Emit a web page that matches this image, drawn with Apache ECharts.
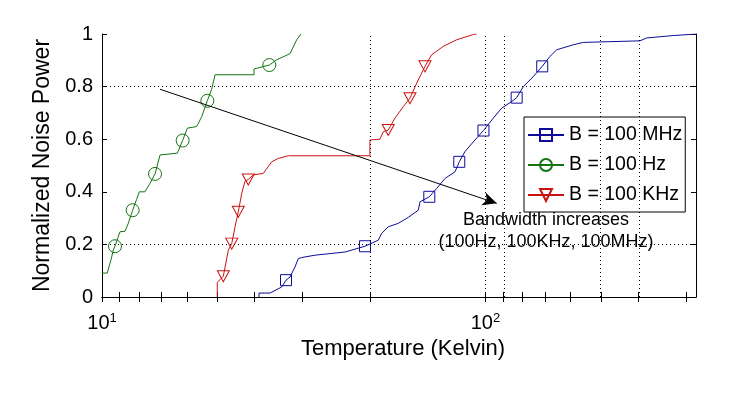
<!DOCTYPE html>
<html>
<head>
    <meta charset="utf-8">
    <title>Normalized Noise Power</title>
    <script src="https://cdn.jsdelivr.net/npm/echarts@6/dist/echarts.min.js"></script>
</head>
<body style="margin:0;background:#fff;">
    <div id="main" style="width:752px;height:394px;"></div>
    <script>
        // temperatures in kelvin, noise power as fraction of total
        var blueTemp = [25.67, 25.67, 27.42, 28.26, 29.42, 30.19, 30.92, 31.86, 32.5, 33.17,
            35.93, 43.01, 48.51, 52.54, 53.62, 55.78, 59.24, 62.92, 66.81, 67.49,
            71.37, 74.61, 78.45, 83.28, 85.45, 88.42, 93.89, 98.8, 104.8, 110.2,
            117, 120.6, 125.5, 133.3, 140.6, 147.3, 153.4, 169.4, 179.9, 252.9,
            263.3, 308.9, 308.9, 354];
        var blueFrac = [0, 0.015, 0.015, 0.025, 0.038, 0.064, 0.076, 0.114, 0.146, 0.15,
            0.159, 0.171, 0.193, 0.216, 0.242, 0.267, 0.28, 0.303, 0.33, 0.362,
            0.381, 0.413, 0.451, 0.476, 0.514, 0.553, 0.597, 0.633, 0.68, 0.718,
            0.743, 0.758, 0.8, 0.838, 0.877, 0.915, 0.94, 0.959, 0.968, 0.974,
            0.985, 0.994, 0.998, 1.0];
        var blueMarks = [30.19, 48.51, 71.37, 85.45, 98.8, 120.6, 140.6];

        var greenTemp = [10, 10.32, 10.55, 10.7, 10.81, 11.0, 11.14, 11.48, 11.71, 11.96,
            12.02, 12.3, 12.51, 12.94, 13.34, 13.75, 14.17, 15.72, 16.23, 16.69,
            17.66, 18.2, 18.82, 19.32, 19.72, 24.91, 24.91, 27.31, 28.54, 30.92,
            32.19, 33.03];
        var greenFrac = [0.091, 0.091, 0.14, 0.178, 0.193, 0.225, 0.248, 0.25, 0.28, 0.32,
            0.33, 0.37, 0.40, 0.40, 0.432, 0.468, 0.54, 0.547, 0.595, 0.642,
            0.648, 0.686, 0.746, 0.79, 0.845, 0.845, 0.867, 0.882, 0.902, 0.925,
            0.978, 1.0];
        var greenMarks = [10.81, 12.02, 13.75, 16.23, 18.82, 27.31];

        var redTemp = [19.98, 19.98, 20.72, 21.35, 21.79, 22.23, 22.67, 23.14, 23.6, 24.07,
            24.8, 26.34, 27.71, 28.83, 30.61, 49.97, 49.97, 53.08, 54.14, 55.78,
            58.07, 61.04, 63.56, 66.17, 69.54, 72.39, 77.62, 84.13, 92.95, 94.84];
        var redFrac = [0, 0.055, 0.079, 0.178, 0.203, 0.267, 0.324, 0.394, 0.44, 0.447,
            0.464, 0.47, 0.514, 0.527, 0.537, 0.537, 0.597, 0.6, 0.629, 0.635,
            0.68, 0.724, 0.756, 0.813, 0.877, 0.921, 0.953, 0.978, 0.998, 1.0];
        var redMarks = [20.72, 21.79, 22.67, 24.07, 55.78, 63.56, 69.54];

        var seriesNames = ['B = 100 MHz', 'B = 100 Hz', 'B = 100 KHz'];

        // axis: temperature shown on log scale
        var xMinTemp = 10;
        var xMaxTemp = 354;
        var tickTemps = [10, 11.11, 12.5, 14.29, 16.67, 20, 25, 33.33, 50,
            100, 111.1, 125, 142.9, 166.7, 200, 250, 333.3];
        var labelTemps = [10, 100];
        var gridTemps = [50, 100, 111.1, 200, 250];
        var gridFracs = [0.2, 0.8];

        // arrow from / to (temperature, fraction)
        var arrowFrom = [14.16, 0.79];
        var arrowTo = [107, 0.356];
        var noteLines = ['Bandwidth increases', '(100Hz, 100KHz, 100MHz)'];

        var FONT = '"Liberation Sans", Arial, sans-serif';
        var lg = Math.log10;

        function curveData(temps, fracs, marks) {
            return temps.map(function (t, i) {
                var item = { value: [lg(t), fracs[i]] };
                if (marks.indexOf(t) < 0) {
                    item.symbol = 'none';
                }
                return item;
            });
        }

        function curveSeries(name, color, symbol, size, rotate, data) {
            return {
                name: name,
                type: 'line',
                data: data,
                symbol: symbol,
                symbolSize: size,
                symbolRotate: rotate,
                showAllSymbol: true,
                lineStyle: { color: color, width: 1 },
                itemStyle: { color: 'rgba(0,0,0,0)', borderColor: color, borderWidth: 1 },
                emphasis: { disabled: true },
                z: 3
            };
        }

        var xTicks = tickTemps.map(lg);
        var xLabels = labelTemps.map(lg);

        var chart = echarts.init(document.getElementById('main'));
        var option = {
            animation: false,
            backgroundColor: '#fff',
            textStyle: { fontFamily: FONT },
            grid: { left: 102, right: 56, top: 34, bottom: 97 },
            legend: {
                data: seriesNames,
                orient: 'vertical',
                left: 524,
                top: 117,
                backgroundColor: '#fff',
                borderColor: '#000',
                borderWidth: 1,
                borderRadius: 0,
                padding: [8, 3, 7, 3],
                itemWidth: 36,
                itemHeight: 15,
                itemGap: 10,
                selectedMode: false,
                textStyle: { fontSize: 19.5, lineHeight: 15, color: '#000', fontFamily: FONT }
            },
            xAxis: [
                {
                    type: 'value',
                    position: 'bottom',
                    min: lg(xMinTemp),
                    max: lg(xMaxTemp),
                    axisLine: { lineStyle: { color: '#000', width: 1 } },
                    axisTick: { inside: true, length: 5, customValues: xTicks, lineStyle: { color: '#000' } },
                    axisLabel: {
                        customValues: xLabels,
                        margin: 15,
                        color: '#000',
                        fontSize: 20,
                        fontFamily: FONT,
                        formatter: function (v) {
                            return '10{sup|' + Math.round(v) + '}';
                        },
                        rich: { sup: { fontSize: 13, fontFamily: FONT, color: '#000', verticalAlign: 'top', padding: [0, 0, 9, 0] } }
                    },
                    splitLine: { show: false },
                    name: 'Temperature (Kelvin)',
                    nameLocation: 'middle',
                    nameGap: 41,
                    nameTextStyle: { fontSize: 22, color: '#000', fontFamily: FONT, padding: [0, 0, 0, 8] }
                },
                {
                    type: 'value',
                    position: 'top',
                    min: lg(xMinTemp),
                    max: lg(xMaxTemp),
                    axisLine: { lineStyle: { color: '#000', width: 1 } },
                    axisTick: { inside: true, length: 5, customValues: xTicks, lineStyle: { color: '#000' } },
                    axisLabel: { show: false },
                    splitLine: { show: false }
                }
            ],
            yAxis: [
                {
                    type: 'value',
                    position: 'left',
                    min: 0,
                    max: 1,
                    interval: 0.2,
                    axisLine: { show: true, lineStyle: { color: '#000', width: 1 } },
                    axisTick: { show: true, inside: true, length: 5, lineStyle: { color: '#000' } },
                    axisLabel: { color: '#000', fontSize: 20, margin: 9, fontFamily: FONT },
                    splitLine: { show: false },
                    name: 'Normalized Noise Power',
                    nameLocation: 'middle',
                    nameGap: 47,
                    nameTextStyle: { fontSize: 23, color: '#000', fontFamily: FONT }
                },
                {
                    type: 'value',
                    position: 'right',
                    min: 0,
                    max: 1,
                    interval: 0.2,
                    axisLine: { show: true, lineStyle: { color: '#000', width: 1 } },
                    axisTick: { show: true, inside: true, length: 5, lineStyle: { color: '#000' } },
                    axisLabel: { show: false },
                    splitLine: { show: false }
                }
            ],
            graphic: [
                {
                    type: 'text',
                    x: 546,
                    y: 220,
                    style: { text: noteLines[0], font: '18px ' + FONT, fill: '#000', align: 'center', verticalAlign: 'middle' },
                    z: 10
                },
                {
                    type: 'text',
                    x: 546,
                    y: 242,
                    style: { text: noteLines[1], font: '18px ' + FONT, fill: '#000', align: 'center', verticalAlign: 'middle' },
                    z: 10
                }
            ],
            series: [
                {
                    // dotted grid lines
                    name: 'grid',
                    type: 'line',
                    data: [],
                    silent: true,
                    z: 1,
                    markLine: {
                        silent: true,
                        animation: false,
                        symbol: ['none', 'none'],
                        label: { show: false },
                        lineStyle: { color: '#000', width: 1, type: [1, 3] },
                        emphasis: { disabled: true },
                        data: gridTemps.map(function (t) { return { xAxis: lg(t) }; })
                            .concat(gridFracs.map(function (f) { return { yAxis: f }; }))
                    }
                },
                {
                    name: 'arrow',
                    type: 'line',
                    data: [],
                    silent: true,
                    z: 4,
                    markLine: {
                        silent: true,
                        animation: false,
                        symbol: ['none', 'arrow'],
                        symbolSize: [10, 14],
                        label: { show: false },
                        lineStyle: { color: '#000', width: 1, type: 'solid' },
                        itemStyle: { color: '#000' },
                        emphasis: { disabled: true },
                        data: [[
                            { coord: [lg(arrowFrom[0]), arrowFrom[1]] },
                            { coord: [lg(arrowTo[0]), arrowTo[1]] }
                        ]]
                    }
                },
                curveSeries(seriesNames[0], '#0c0c98', 'rect', 11, 0, curveData(blueTemp, blueFrac, blueMarks)),
                curveSeries(seriesNames[1], '#147414', 'circle', 13, 0, curveData(greenTemp, greenFrac, greenMarks)),
                curveSeries(seriesNames[2], '#cc1111', 'triangle', [12, 11], 180, curveData(redTemp, redFrac, redMarks))
            ]
        };
        chart.setOption(option);
    </script>
</body>
</html>
